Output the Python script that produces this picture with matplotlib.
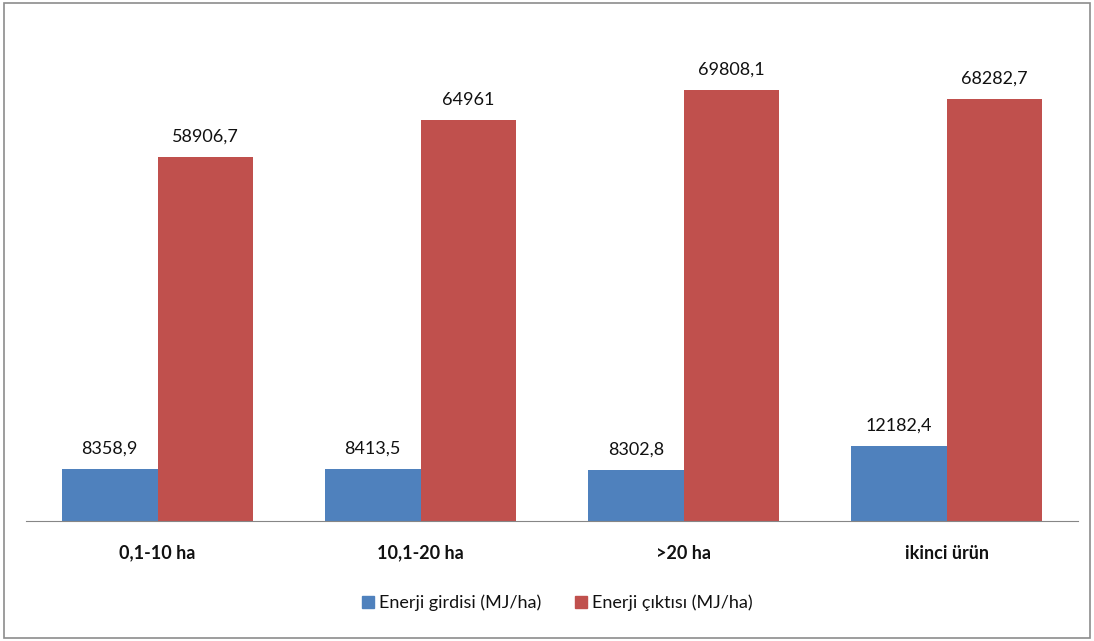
import matplotlib.pyplot as plt
import numpy as np
from matplotlib.patches import Rectangle
from matplotlib.lines import Line2D

plt.rcParams['font.family'] = ['Lato', 'DejaVu Sans']

categories = ['0,1-10 ha', '10,1-20 ha', '>20 ha', 'ikinci ürün']
girdi = [8358.9, 8413.5, 8302.8, 12182.4]
cikti = [58906.7, 64961, 69808.1, 68282.7]
girdi_labels = ['8358,9', '8413,5', '8302,8', '12182,4']
cikti_labels = ['58906,7', '64961', '69808,1', '68282,7']
series_names = ['Enerji girdisi (MJ/ha)', 'Enerji çıktısı (MJ/ha)']

blue = '#4F81BD'
red = '#C0504D'

fig = plt.figure(figsize=(10.94, 6.41), dpi=100)
ax = fig.add_axes([0.0238, 0.1872, 0.9616, 0.7707])

x = np.arange(len(categories))
w = 0.363
b1 = ax.bar(x - w / 2, girdi, w, color=blue)
b2 = ax.bar(x + w / 2, cikti, w, color=red)

for bars, labels in [(b1, girdi_labels), (b2, cikti_labels)]:
    for bar, lab in zip(bars, labels):
        ax.annotate(lab, (bar.get_x() + bar.get_width() / 2, bar.get_height()),
                    xytext=(0, 11), textcoords='offset points',
                    ha='center', va='baseline', fontsize=13, color='#111111')

ax.set_xlim(-0.5, 3.5)
ax.set_ylim(0, 80000)
ax.set_xticks(x)
ax.set_xticklabels(categories, fontsize=13, fontweight='bold', color='#111111')
ax.tick_params(axis='x', length=0, pad=17)
ax.set_yticks([])
for side in ['top', 'left', 'right']:
    ax.spines[side].set_visible(False)
ax.spines['bottom'].set_color('#868686')

handles = [Line2D([], [], marker='s', linestyle='none', markersize=8, color=c)
           for c in (blue, red)]
fig.legend(handles, series_names, loc='center', bbox_to_anchor=(0.508, 0.059),
           ncol=2, frameon=False, fontsize=13, handletextpad=0.1,
           columnspacing=1.7, handlelength=1.0, labelcolor='#111111')

# outer chart border
fig.patches.append(Rectangle((0.004, 0.004), 0.992, 0.992, transform=fig.transFigure,
                             fill=False, edgecolor='#8c8c8c', linewidth=1.2))

fig.savefig('out.png', dpi=100)
